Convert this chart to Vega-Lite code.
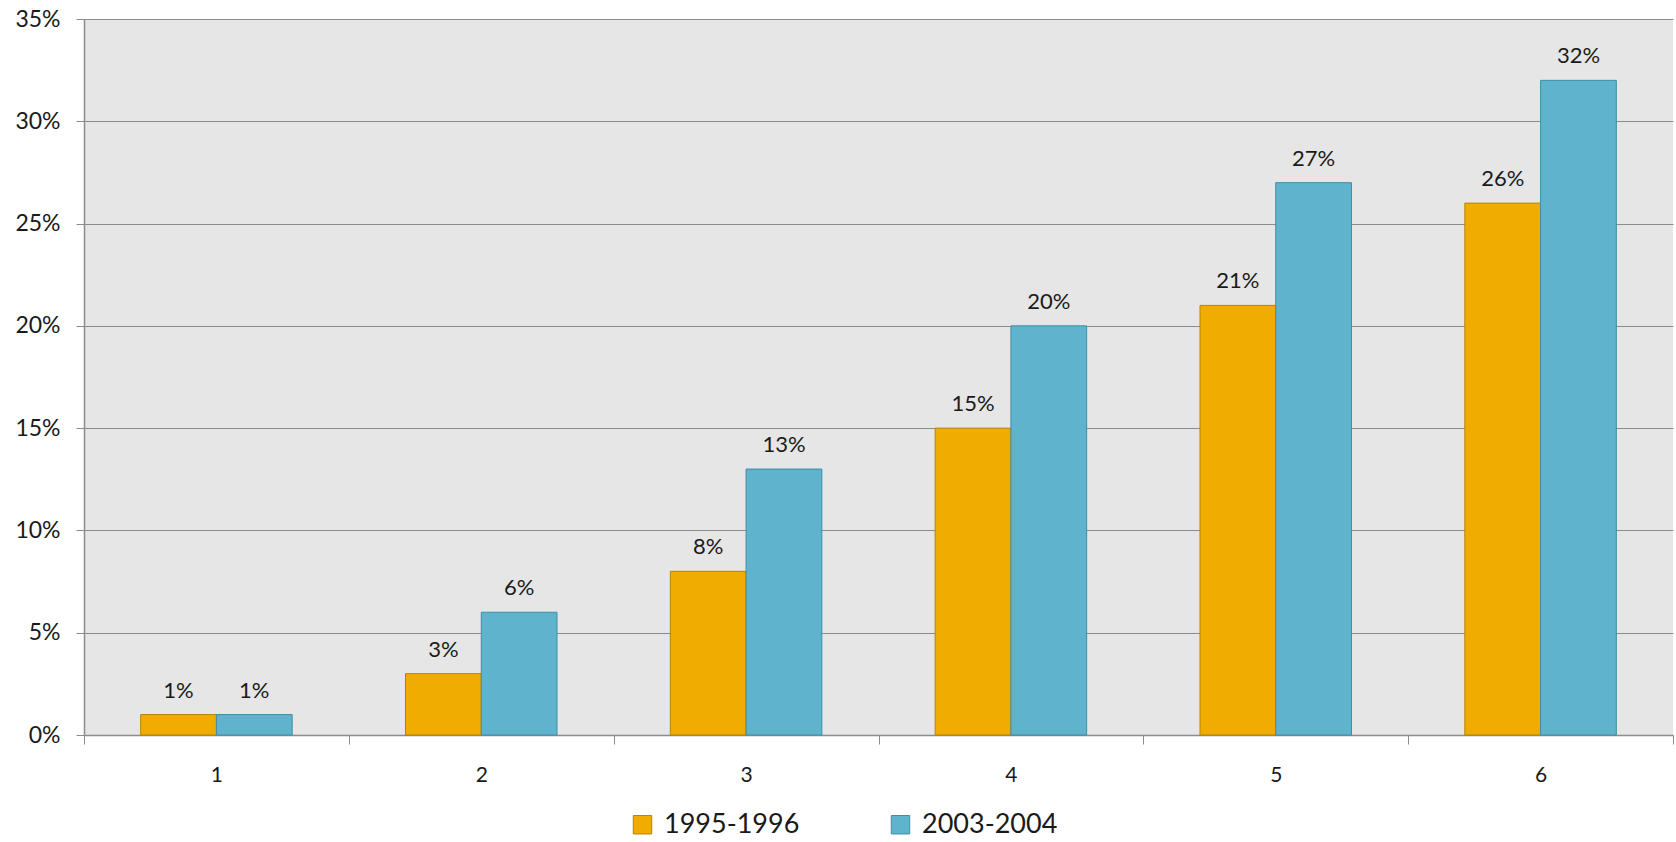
{
  "$schema": "https://vega.github.io/schema/vega-lite/v6.json",
  "width": 1589,
  "height": 716,
  "autosize": {"type": "none"},
  "padding": {"left": 84, "top": 19, "right": 3, "bottom": 107},
  "background": "white",
  "config": {
    "font": "Lato",
    "view": {"fill": "#e6e6e6", "stroke": null},
    "axis": {"labelFont": "Lato", "labelColor": "#1a1a1a", "domainColor": "#8c8c8c", "tickColor": "#8c8c8c", "gridColor": "#8c8c8c"}
  },
  "data": {
    "values": [
      {"cat": "1", "period": "1995-1996", "v": 0.01},
      {"cat": "1", "period": "2003-2004", "v": 0.01},
      {"cat": "2", "period": "1995-1996", "v": 0.03},
      {"cat": "2", "period": "2003-2004", "v": 0.06},
      {"cat": "3", "period": "1995-1996", "v": 0.08},
      {"cat": "3", "period": "2003-2004", "v": 0.13},
      {"cat": "4", "period": "1995-1996", "v": 0.15},
      {"cat": "4", "period": "2003-2004", "v": 0.20},
      {"cat": "5", "period": "1995-1996", "v": 0.21},
      {"cat": "5", "period": "2003-2004", "v": 0.27},
      {"cat": "6", "period": "1995-1996", "v": 0.26},
      {"cat": "6", "period": "2003-2004", "v": 0.32}
    ]
  },
  "encoding": {
    "x": {
      "field": "cat", "type": "nominal",
      "scale": {"paddingInner": 0, "paddingOuter": 0},
      "axis": {"title": null, "labelAngle": 0, "labelFontSize": 21, "tickBand": "extent", "tickSize": 9, "labelPadding": 20, "domainWidth": 1.5}
    },
    "xOffset": {"field": "period", "type": "nominal", "scale": {"paddingInner": 0, "paddingOuter": 0.748}},
    "y": {
      "field": "v", "type": "quantitative",
      "scale": {"domain": [0, 0.35], "nice": false},
      "axis": {"title": null, "format": ".0%", "values": [0, 0.05, 0.1, 0.15, 0.2, 0.25, 0.3, 0.35], "labelFontSize": 23, "tickSize": 8, "labelPadding": 16, "domainWidth": 1.5, "gridWidth": 1.2}
    }
  },
  "layer": [
    {
      "mark": {"type": "bar", "strokeWidth": 1},
      "encoding": {
        "color": {
          "field": "period", "type": "nominal",
          "scale": {"domain": ["1995-1996", "2003-2004"], "range": ["#f0ac00", "#60b3cc"]},
          "legend": {"title": null, "orient": "none", "legendX": 545, "legendY": 792, "direction": "horizontal", "symbolType": "square", "symbolSize": 340, "symbolStrokeWidth": 1, "labelFontSize": 27, "labelColor": "#1a1a1a", "columnPadding": 87, "labelOffset": 8}
        },
        "stroke": {
          "field": "period", "type": "nominal",
          "scale": {"domain": ["1995-1996", "2003-2004"], "range": ["#b88400", "#3e8ea5"]},
          "legend": null
        }
      }
    },
    {
      "mark": {"type": "text", "baseline": "bottom", "dy": -12, "fontSize": 22, "color": "#1a1a1a"},
      "encoding": {"text": {"field": "v", "type": "quantitative", "format": ".0%"}}
    }
  ]
}
